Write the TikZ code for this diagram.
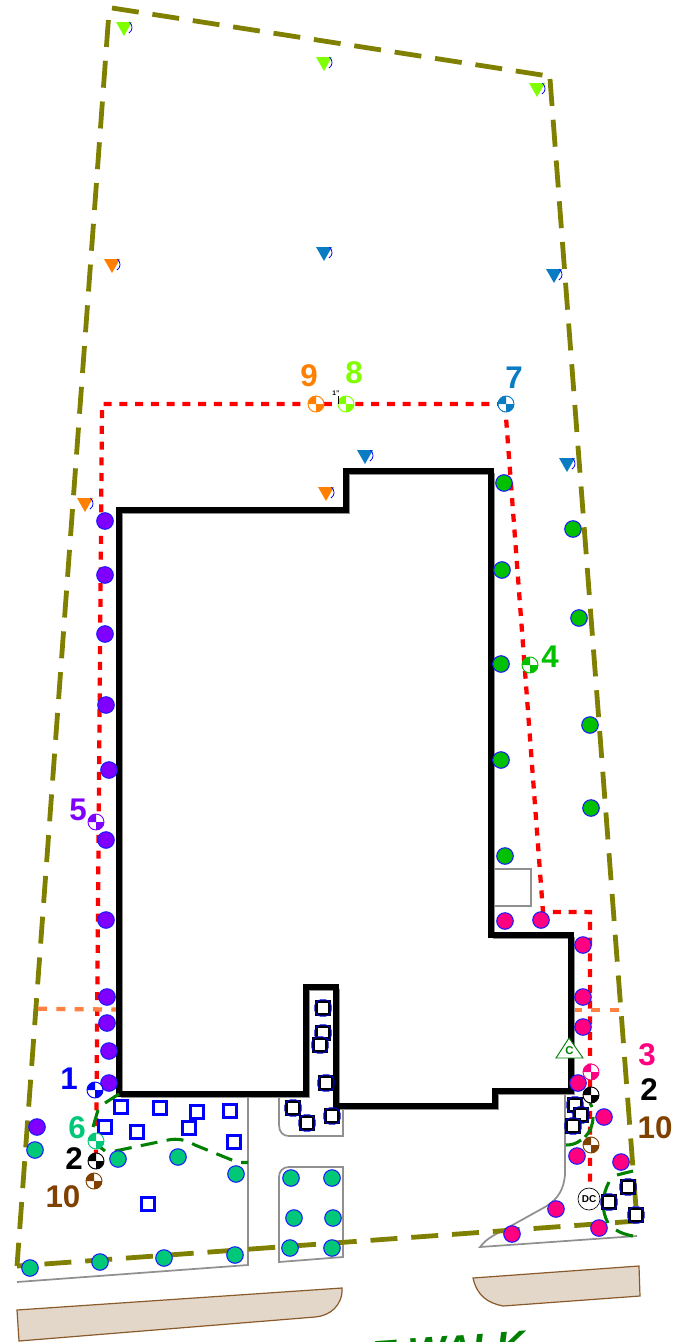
\documentclass[tikz,border=0pt]{standalone}
\usepackage{fontspec}
\setmainfont{Liberation Sans}
\definecolor{olivec}{HTML}{808000}
\definecolor{purp}{HTML}{7F00FF}
\definecolor{grn}{HTML}{00C000}
\definecolor{pnk}{HTML}{FF0080}
\definecolor{teal2}{HTML}{00C878}
\definecolor{lime2}{HTML}{80FF00}
\definecolor{sky2}{HTML}{0A7CC4}
\definecolor{org}{HTML}{FF8000}
\definecolor{brn}{HTML}{804000}
\definecolor{tan2}{HTML}{E3D7CA}
\definecolor{tanl}{HTML}{8B5A2B}
\definecolor{gr}{HTML}{909090}
\definecolor{dgrn}{HTML}{008000}
\definecolor{orl}{HTML}{FF8040}
\begin{document}
\begin{tikzpicture}[x=0.75pt,y=-0.75pt,
  fence/.style={draw=olivec,line width=3.6pt,dash pattern=on 20.25pt off 10.4pt},
  redline/.style={draw=red,line width=3.2pt,dash pattern=on 6pt off 5.8pt},
  orline/.style={draw=orl,line width=3.2pt,dash pattern=on 6.75pt off 7pt},
  bld/.style={draw=black,line width=4.8pt,miter limit=10},
  edge/.style={draw=gr,line width=1.3pt},
  arcg/.style={draw=dgrn,line width=2.3pt,dash pattern=on 12.75pt off 7pt},
  arcs/.style={draw=dgrn,line width=2.3pt},
  walk/.style={fill=tan2,draw=tanl,line width=0.9pt},
  lab/.style={font=\bfseries\fontsize{23.5}{25}\selectfont,inner sep=0pt},
  dot/.style={circle,minimum size=12.4pt,inner sep=0pt,draw=blue!90!white,line width=0.8pt,fill=#1},
  bsq/.style={draw=blue,line width=2.6pt,fill=none,minimum size=10pt,inner sep=0pt},
]
\useasboundingbox (0,0) rectangle (678,1342);
\begin{scope}
\clip (0,0) rectangle (678,1342);
% pavement
\draw[walk] (17,1310) -- (342,1288) .. controls (343,1305) and (330,1316) .. (315,1317) -- (19,1341) -- cycle;
\draw[walk] (473,1278) -- (639,1266) -- (640,1296) -- (503,1306) .. controls (488,1303) and (477,1296) .. (473,1278) -- cycle;
\node[inner sep=0pt,rotate=4,text=dgrn,font=\bfseries\itshape\fontsize{30}{32}\selectfont] (sw) at (448,1350) {E WALK};
% thin edges
\draw[edge] (248,1097) -- (248,1265) -- (17,1282);
\draw[edge] (279,1098) -- (279,1125) .. controls (279,1132) and (283,1136) .. (289,1136) -- (343,1136) -- (343,1106);
\draw[edge] (289,1167) -- (343,1167) -- (343,1257) -- (279,1262) -- (279,1177) .. controls (279,1171) and (283,1167) .. (289,1167);
\draw[edge] (565,1094) -- (565,1175) .. controls (563,1195) and (553,1202) .. (545,1207) -- (500,1232) .. controls (488,1238) and (484,1242) .. (480,1247) -- (637,1236);
\draw[edge] (491,869) -- (531,869) -- (531,906) -- (491,906);
% boundary
\draw[fence] (112,8) -- (552,76.6);
\draw[fence] (550,79) -- (637,1221);
\draw[fence,dash phase=3.75pt] (637,1221) -- (17,1266);
\draw[fence] (108.4,20) -- (17,1266);
% water lines
\draw[redline] (505,404) -- (102,404) -- (96,1160);
\draw[redline] (505,404) -- (543,912) -- (590,912) -- (590,1187);
\draw[orline] (38,1008.7) -- (118,1009.6);
\draw[orline] (573,1010) -- (620,1010);
% building
\draw[edge,shift={(2.8,2.8)}] (119,510) -- (346,510) -- (346,471) -- (491,471) -- (491,935) -- (571,935) -- (571,1091) -- (495,1091) -- (495,1106) -- (336,1106) -- (336,987) -- (306,987) -- (306,1094) -- (119,1094) -- cycle;
\draw[bld] (119,510) -- (346,510) -- (346,471) -- (491,471) -- (491,935) -- (571,935) -- (571,1091) -- (495,1091) -- (495,1106) -- (336,1106) -- (336,987) -- (306,987) -- (306,1094) -- (119,1094) -- cycle;
% green arcs
\draw[arcs] (119,1094) -- (105,1103);
\draw[arcs] (98,1110) -- (93,1127);
\draw[arcs] (100,1147) -- (105,1151);
\draw[arcg] (115,1151) -- (168,1140) .. controls (178,1138) and (186,1140) .. (195,1145) -- (238,1162.5) -- (248,1162.5);
\draw[arcs] (590,1103) -- (592,1107);
\draw[arcs] (593,1117) .. controls (593,1125) and (590,1132) .. (585,1137);
\draw[arcs] (581,1140) .. controls (576,1144) and (571,1145) .. (566,1145);
\draw[arcs] (617,1175) -- (633,1171);
\draw[arcs] (609,1182) .. controls (602,1195) and (601,1210) .. (608,1223);
\draw[arcs] (616,1230) .. controls (621,1233) and (627,1235) .. (633,1236);
% squares
\foreach \n/\x/\y in {a/121/1107,b/160/1108,c/197/1112,d/230/1111,e/105/1127,f/137/1132,g/189/1128,h/234/1142,i/148/1204}
  \node[bsq] (sq\n) at (\x,\y) {};
\foreach \n/\x/\y in {a/323/1008,b/323/1033,c/320/1045,d/326/1083,e/293/1108,f/307/1123,g/332/1116,h/575/1105,i/581/1115,j/573/1126,k/609/1202,l/628/1187,m/636/1215}{
  \node[draw=black,line width=2.6pt,fill=white,minimum size=9.8pt,inner sep=0pt] (bq\n) at (\x,\y) {};
  \node[draw=blue!80!black,line width=0.8pt,rounded corners=4pt,minimum size=12pt,inner sep=0pt] (bo\n) at (\x,\y) {};
}
% dots
\foreach \x/\y [count=\i] in {105/521,105/575,105/634,106/705,109/770,106/840,106/920,107/997,107/1023,109/1051,109/1083,37/1127}
  \node[dot=purp] (pu\i) at (\x,\y) {};
\foreach \x/\y [count=\i] in {504/483,502/570,501/664,501/760,505/856,573/529,579/618,590/725,591/808}
  \node[dot=grn] (gn\i) at (\x,\y) {};
\foreach \x/\y [count=\i] in {505/921,541/920,583/945,583/997,583/1027,578/1083,604/1117,577/1156,621/1162,556/1209,512/1234,599/1228}
  \node[dot=pnk] (pk\i) at (\x,\y) {};
\foreach \x/\y [count=\i] in {35/1150,118/1159,178/1157,236/1174,30/1268,100/1262,164/1258,235/1255,291/1178,332/1178,294/1218,333/1218,290/1248,332/1248}
  \node[dot=teal2] (tl\i) at (\x,\y) {};
% triangles
\newcommand{\tri}[3]{%
  \fill[#1] (#2-8,#3-7) -- (#2+8,#3-7) -- (#2,#3+7) -- cycle;
  \draw[blue,line width=0.6pt] (#2+5.5,#3-7) .. controls (#2+9,#3-3) and (#2+9,#3+1) .. (#2+5,#3+4);}
\tri{lime2}{124}{29}\tri{lime2}{324}{64}\tri{lime2}{537}{90}
\tri{sky2}{324}{254}\tri{sky2}{554}{276}\tri{sky2}{365}{457}\tri{sky2}{567}{465}
\tri{org}{112}{266}\tri{org}{85}{505}\tri{org}{326}{494}
% valves
\newcommand{\valve}[3]{%
  \fill[white] (#2,#3) circle (6pt);
  \fill[#1] (#2,#3) -- (#2-8,#3) arc[start angle=180,end angle=90,radius=6pt] -- cycle;
  \fill[#1] (#2,#3) -- (#2+8,#3) arc[start angle=0,end angle=-90,radius=6pt] -- cycle;
  \draw[#1,line width=0.7pt] (#2,#3) circle (6pt);}
\valve{blue}{95}{1090}\valve{teal2}{96}{1141}\valve{black}{96}{1161}\valve{brn}{94}{1181}
\valve{purp}{96}{822}\valve{org}{316}{404}\valve{lime2}{346}{404}\valve{sky2}{506}{404}
\valve{grn}{530}{665}\valve{pnk}{591}{1072}\valve{black}{591}{1095}\valve{brn}{591}{1145}
% labels
\node[lab,text=blue] (l1) at (69,1079) {1};
\node[lab,text=teal2] (l6) at (77,1128) {6};
\node[lab,text=black] (l2) at (74,1159) {2};
\node[lab,text=brn] (l10) at (63,1197) {10};
\node[lab,text=purp] (l5) at (78,810) {5};
\node[lab,text=org] (l9) at (309,376) {9};
\node[lab,text=lime2] (l8) at (354,373) {8};
\node[lab,text=sky2] (l7) at (514,378) {7};
\node[lab,text=grn] (l4) at (550,657) {4};
\node[lab,text=pnk] (l3) at (647,1055) {3};
\node[lab,text=black] (l2b) at (649,1090) {2};
\node[lab,text=brn] (l10b) at (655,1128) {10};
% C marker
\draw[dgrn,fill=white,line width=0.7pt] (569,1038) -- (556,1058) -- (583,1058) -- cycle;
\node[text=dgrn,font=\bfseries\fontsize{8.5}{9}\selectfont,inner sep=0pt] (cm) at (569.5,1051) {C};
\node[circle,draw=black,fill=white,line width=0.5pt,minimum size=16.5pt,inner sep=0pt,font=\bfseries\fontsize{7.5}{8}\selectfont] (dc) at (589,1199) {DC};
% 1" mark
\draw[black,line width=0.6pt] (338,396) -- (338,404);
\node[font=\bfseries\fontsize{5}{5}\selectfont,inner sep=0pt] (one) at (336,393) {1"};
\end{scope}
\end{tikzpicture}
\end{document}
